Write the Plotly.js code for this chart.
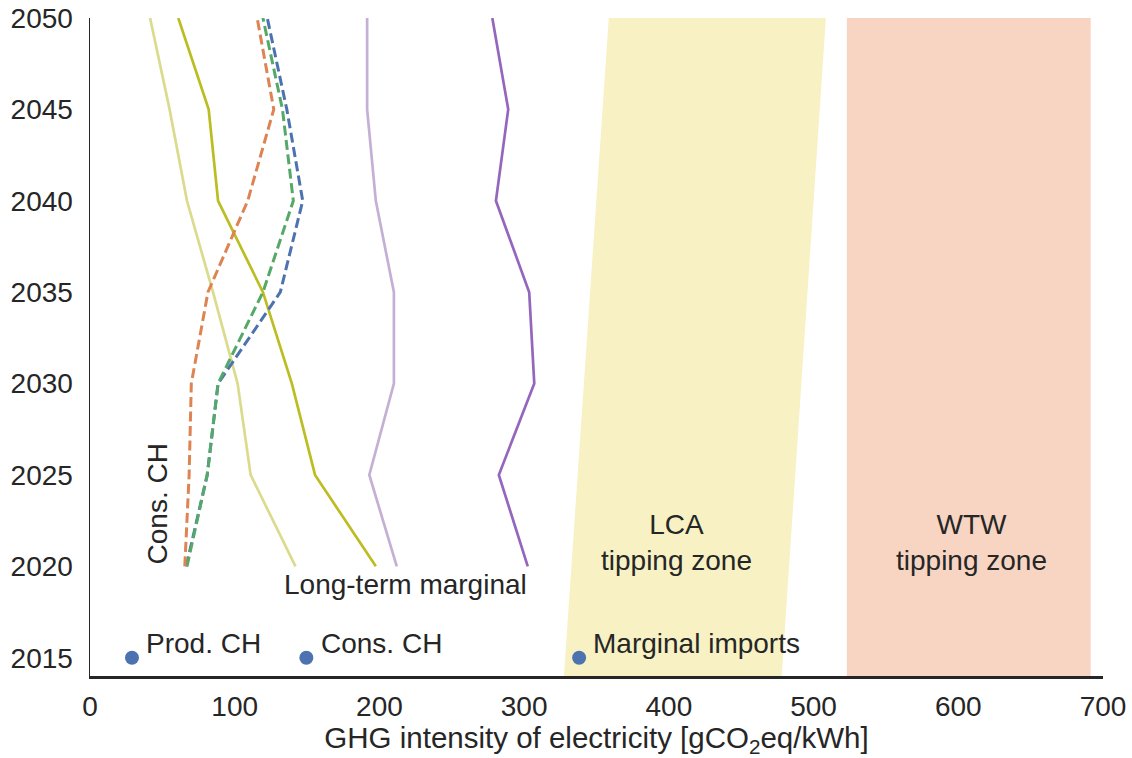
<!DOCTYPE html>
<html>
<head>
<meta charset="utf-8">
<script src="https://cdn.plot.ly/plotly-3.0.1.min.js"></script>
<style>html,body{margin:0;padding:0;background:#fff;}#chart{width:1132px;height:758px;}</style>
</head>
<body>
<div id="chart"></div>
<script>
// ---- data ----
const years = [2020, 2025, 2030, 2035, 2040, 2045, 2050];
const lightOlive = [142, 111, 102, 85, 67, 55, 41.5];
const olive      = [197.5, 155.5, 139.5, 119.5, 88.5, 82, 61];
const lightPurple= [212, 193, 210, 210, 197.5, 191.5, 191.5];
const purple     = [302.5, 282.5, 307, 303.5, 280.5, 289, 278];
const orangeD    = [65.5, 68.5, 70, 81.5, 109, 127, 115.5];
const greenD     = [67, 81, 88.5, 119.5, 140.5, 133, 119.5];
const blueD      = [66.5, 81, 88.5, 131.5, 147, 136, 122.5];

const pointLabels = ["Prod. CH", "Cons. CH", "Marginal imports"];
const pointX = [29, 149.5, 338];
const pointYear = [2015, 2015, 2015];

const lcaX = [327.5, 478, 508.5, 358.5];
const lcaY = [2014, 2014, 2050, 2050];
const wtwX = [523, 691.5];
const wtwY = [2014, 2050];

const xTicks = [0, 100, 200, 300, 400, 500, 600, 700];
const yTicks = [2015, 2020, 2025, 2030, 2035, 2040, 2045, 2050];

const FONT = "Liberation Sans, Arial, Helvetica, sans-serif";
const TXT = "#262626";

function line(x, color, dash) {
  return {x: x, y: years, type: "scatter", mode: "lines",
    line: {color: color, width: dash ? 3 : 2.7, dash: dash || "solid"},
    hoverinfo: "skip", showlegend: false, cliponaxis: true};
}

const traces = [
  line(lightOlive, "#dbdb8d"),
  line(olive, "#bcbd22"),
  line(lightPurple, "#c5b0d5"),
  line(purple, "#9467bd"),
  line(blueD, "#4c72b0", "10px,4.5px"),
  line(greenD, "#55a868", "10px,4.5px"),
  line(orangeD, "#dd8452", "10px,4.5px"),
  {x: pointX, y: pointYear, type: "scatter", mode: "markers",
   marker: {color: "#4c72b0", size: 14}, showlegend: false, hoverinfo: "skip", cliponaxis: false}
];

let lcaPath = "M " + lcaX.map((v, i) => v + "," + lcaY[i]).join(" L ") + " Z";

const shapes = [
  {type: "path", path: lcaPath, xref: "x", yref: "y", fillcolor: "#f7f1c4",
   line: {width: 0}, layer: "below"},
  {type: "rect", x0: wtwX[0], x1: wtwX[1], y0: wtwY[0], y1: wtwY[1], xref: "x", yref: "y",
   fillcolor: "#f7d5c2", line: {width: 0}, layer: "below"}
];

const annFont = {family: FONT, size: 28, color: TXT};
const annotations = [];
pointLabels.forEach((t, i) => {
  annotations.push({x: pointX[i] + 8.5, y: 2015.8, xref: "x", yref: "y", text: t,
    showarrow: false, xanchor: "left", yanchor: "middle", font: annFont});
});
annotations.push({x: 46.5, y: 2023.4, xref: "x", yref: "y", text: "Cons. CH", textangle: -90,
  showarrow: false, xanchor: "center", yanchor: "middle", font: annFont});
annotations.push({x: 217.7, y: 2019.0, xref: "x", yref: "y", text: "Long-term marginal",
  showarrow: false, xanchor: "center", yanchor: "middle", font: annFont});
annotations.push({x: 405.6, y: 2021.3, xref: "x", yref: "y", text: "LCA<br>tipping zone",
  showarrow: false, xanchor: "center", yanchor: "middle", font: annFont});
annotations.push({x: 608.8, y: 2021.3, xref: "x", yref: "y", text: "WTW<br>tipping zone",
  showarrow: false, xanchor: "center", yanchor: "middle", font: annFont});

const layout = {
  width: 1132, height: 758,
  margin: {l: 90, r: 29, t: 18, b: 82},
  paper_bgcolor: "#fff", plot_bgcolor: "#fff",
  font: {family: FONT, color: TXT, size: 28},
  showlegend: false,
  xaxis: {range: [0, 700], tickvals: xTicks, ticktext: xTicks.map(String),
    showgrid: false, zeroline: false, showline: true, linecolor: "#262626", linewidth: 2.5,
    ticks: "", ticklabelstandoff: 4, tickfont: {family: FONT, size: 28, color: TXT},
    title: {text: "GHG intensity of electricity [gCO<sub>2</sub>eq/kWh]", standoff: 6,
      font: {family: FONT, size: 29.5, color: TXT}}},
  yaxis: {range: [2014, 2050], tickvals: yTicks, ticktext: yTicks.map(String),
    showgrid: false, zeroline: false, showline: true, linecolor: "#262626", linewidth: 1.5,
    ticks: "", ticklabelstandoff: 10, tickfont: {family: FONT, size: 28, color: TXT}},
  shapes: shapes,
  annotations: annotations
};

Plotly.newPlot("chart", traces, layout, {staticPlot: true, displayModeBar: false});
</script>
</body>
</html>
